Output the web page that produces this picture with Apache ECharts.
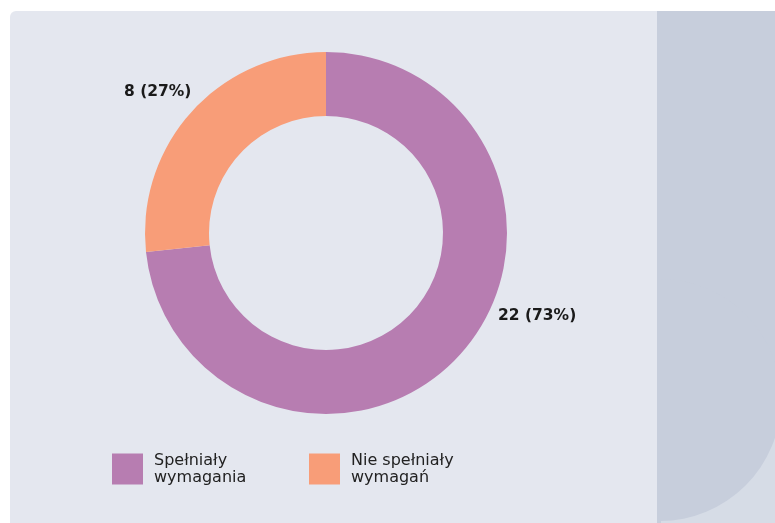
<!DOCTYPE html>
<html>
<head>
<meta charset="utf-8">
<script src="https://cdn.jsdelivr.net/npm/echarts@6/dist/echarts.min.js"></script>
<style>
html,body{margin:0;padding:0;background:#ffffff;}
#chart{width:775px;height:523px;}
</style>
</head>
<body>
<div id="chart"></div>
<script>
const categories = ['Spełniały\nwymagania', 'Nie spełniały\nwymagań'];
const values = [22, 8];
const colors = ['#b77db1', '#f89d78'];

const chart = echarts.init(document.getElementById('chart'), null, {renderer: 'canvas'});
const total = values.reduce((a, b) => a + b, 0);

const labelPos = [
  {dx: 172, dy: 83},
  {dx: -202, dy: -141}
];
const cx = 326, cy = 233;

chart.setOption({
  backgroundColor: '#ffffff',
  animation: false,
  graphic: [
    {type: 'rect', silent: true, z: -10, shape: {x: 10, y: 11, width: 765, height: 512, r: [6, 0, 0, 0]}, style: {fill: '#e4e7ef'}},
    {type: 'rect', silent: true, z: -9, shape: {x: 657, y: 11, width: 118, height: 512}, style: {fill: '#d6dce6'}},
    {type: 'rect', silent: true, z: -8, shape: {x: 657, y: 11, width: 118, height: 390}, style: {fill: '#c7cedc'}},
    {type: 'rect', silent: true, z: -8, shape: {x: 657, y: 400, width: 4, height: 123}, style: {fill: '#c7cedc'}},
    {type: 'sector', silent: true, z: -8, shape: {cx: 660, cy: 400, r0: 0, r: 121, startAngle: -Math.PI / 2, endAngle: Math.PI / 2, clockwise: true}, style: {fill: '#c7cedc'}}
  ],
  legend: categories.map((c, i) => ({
    data: [c],
    left: i === 0 ? 112 : 309,
    top: 452,
    padding: 0,
    orient: 'horizontal',
    icon: 'rect',
    itemWidth: 31,
    itemHeight: 31,
    selectedMode: false,
    textStyle: {fontFamily: 'DejaVu Sans', fontSize: 16, color: '#222222', lineHeight: 17, padding: [0, 0, 0, 6]}
  })),
  series: [{
    type: 'pie',
    center: [cx, cy],
    radius: [117, 181],
    startAngle: 90,
    clockwise: true,
    avoidLabelOverlap: false,
    silent: true,
    data: categories.map((c, i) => ({name: c, value: values[i], itemStyle: {color: colors[i]}})),
    label: {
      show: true,
      position: 'outside',
      formatter: p => p.value + ' (' + Math.round(p.value / total * 100) + '%)',
      fontFamily: 'DejaVu Sans',
      fontWeight: 'bold',
      fontSize: 15.5,
      color: '#1a1a1a'
    },
    labelLine: {show: false},
    labelLayout: function (params) {
      const p = labelPos[params.dataIndex];
      return {x: cx + p.dx, y: cy + p.dy, align: 'left', verticalAlign: 'middle'};
    },
    emphasis: {disabled: true}
  }]
});
</script>
</body>
</html>
